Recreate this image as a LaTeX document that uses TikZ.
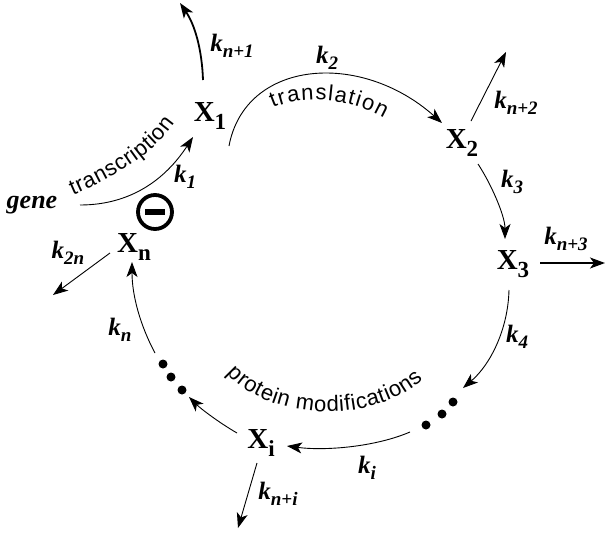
\documentclass[tikz,border=0pt]{standalone}
\usepackage{fontspec}
\setmainfont{Liberation Serif}
\newfontfamily\sansfont{Liberation Sans}
\usetikzlibrary{arrows.meta,decorations.text}
\newcommand\klab[1]{{\fontsize{25}{25}\selectfont\bfseries\itshape k\lower6pt\hbox{\fontsize{19}{19}\selectfont\bfseries\itshape #1}}}
\newcommand\xlab[1]{{\fontsize{29}{29}\selectfont\bfseries X\lower8pt\hbox{\fontsize{23}{23}\selectfont\bfseries #1}}}
\newcommand\labfont{\sansfont\fontsize{22}{24}\selectfont}
\tikzset{
  arr/.style={-{Stealth[length=15pt,width=11pt,inset=4pt]}, line width=0.9pt},
  thickarr/.style={arr, line width=1.8pt},
  species/.style={inner sep=0pt},
  rate/.style={inner sep=0pt},
  dotnode/.style={circle, fill=black, minimum size=9pt, inner sep=0pt},
}
\begin{document}
\begin{tikzpicture}[x=1pt,y=-1pt]
\useasboundingbox (0,0) rectangle (606,536);
% species
\node[species] (gene) at (32,205) {\fontsize{26}{26}\selectfont\bfseries\itshape gene};
\node[species] (X1) at (210,116) {\xlab{1}};
\node[species] (X2) at (462,143) {\xlab{2}};
\node[species] (X3) at (513,264) {\xlab{3}};
\node[species] (Xn) at (134,247) {\xlab{n}};
\node[species] (Xi) at (261,443) {\xlab{i}};
% inhibition sign
\node[circle, draw, line width=3.8pt, minimum size=34pt, inner sep=0pt] (inh) at (155,212) {};
\fill ([shift={(-10,-3)}]inh.center) rectangle ([shift={(10,3)}]inh.center);
% dots
\node[dotnode] (dr1) at (453,402) {};
\node[dotnode] (dr2) at (442,414) {};
\node[dotnode] (dr3) at (426,425) {};
\node[dotnode] (dl1) at (163,364) {};
\node[dotnode] (dl2) at (171,377) {};
\node[dotnode] (dl3) at (182,390) {};
% free ends
\coordinate (e1) at (180,3);
\coordinate (e2) at (506,52);
\coordinate (e3) at (605,263);
\coordinate (e2n) at (53,295);
\coordinate (ei) at (238,528);
% connectors
\draw[arr] ([shift={(48,0)}]gene.center) .. controls (130,205) and (165,180) .. ([shift={(-17,21)}]X1.center);
\draw[thickarr] ([shift={(-7,-36)}]X1.center) .. controls (202,50) and (195,25) .. (e1);
\draw[arr] ([shift={(19,30)}]X1.center) .. controls (245,60) and (360,50) .. ([shift={(-20,-20)}]X2.center);
\draw[arr] ([shift={(9,-22)}]X2.center) -- (e2);
\draw[arr] ([shift={(16,21)}]X2.center) .. controls (490,182) and (505,215) .. ([shift={(-8,-25)}]X3.center);
\draw[arr, line width=1.3pt] ([shift={(27,-1)}]X3.center) -- (e3);
\draw[arr] ([shift={(-4,26)}]X3.center) .. controls (508,330) and (490,365) .. ([shift={(10,-14)}]dr1.center);
\draw[arr] ([shift={(-16,7)}]dr3.center) .. controls (375,447) and (325,451) .. ([shift={(26,3)}]Xi.center);
\draw[arr] ([shift={(-24,-10)}]Xi.center) .. controls (218,422) and (200,408) .. ([shift={(7,7)}]dl3.center);
\draw[arr] ([shift={(-8,-11)}]dl1.center) .. controls (140,325) and (132,295) .. ([shift={(-2,15)}]Xn.center);
\draw[arr] ([shift={(-24,6)}]Xn.center) -- (e2n);
\draw[arr] ([shift={(-4,20)}]Xi.center) -- (ei);
% rate labels
\node[rate] (k1) at (185,177) {\klab{1}};
\node[rate] (kn1) at (232,46) {\klab{n+1}};
\node[rate] (k2) at (327,58) {\klab{2}};
\node[rate] (kn2) at (516,103) {\klab{n+2}};
\node[rate] (k3) at (512,182) {\klab{3}};
\node[rate] (kn3) at (566,239) {\klab{n+3}};
\node[rate] (k4) at (517,337) {\klab{4}};
\node[rate] (ki) at (367,468) {\klab{i}};
\node[rate] (kn) at (120,330) {\klab{n}};
\node[rate] (k2n) at (68,253) {\klab{2n}};
\node[rate] (kni) at (278,494) {\klab{n+i}};
% process labels along curves
\path[decorate, decoration={text along path, text={|\labfont|transcription}, text align={fit to path}}]
  (73,195) .. controls (110,179) and (152,156) .. (175,123);
\path[decorate, decoration={text along path, text={|\labfont|translation}, text align={fit to path}}]
  (273,108) .. controls (300,96) and (345,96) .. (384,118);
\path[decorate, decoration={text along path, text={|\labfont|protein modifications}, text align={fit to path}}]
  (227,373) .. controls (268,421) and (372,426) .. (423,379);
\end{tikzpicture}
\end{document}
